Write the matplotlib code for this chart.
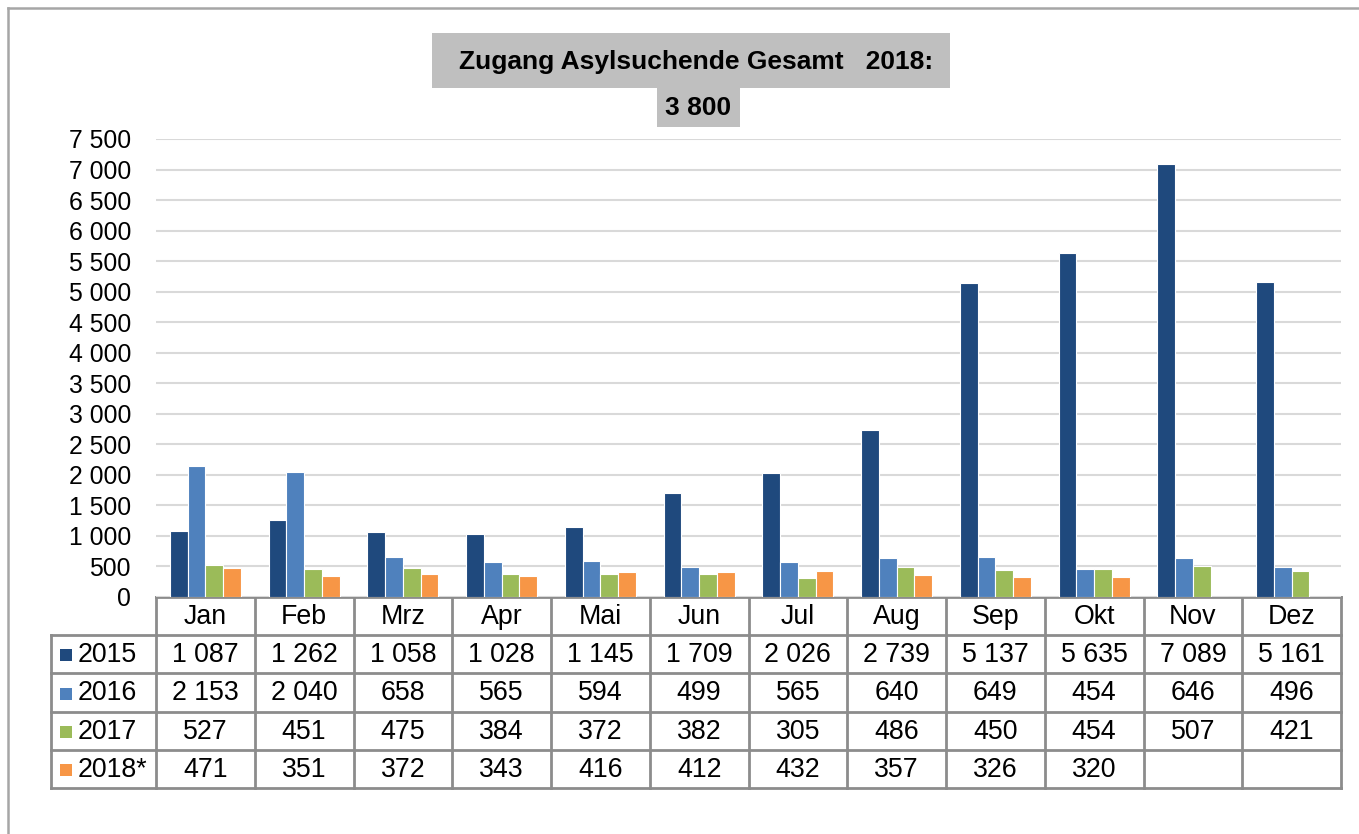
import matplotlib
matplotlib.use("Agg")
import matplotlib.pyplot as plt
import numpy as np

plt.rcParams['font.family'] = ['Liberation Sans', 'DejaVu Sans']

# Data
months = ['Jan', 'Feb', 'Mrz', 'Apr', 'Mai', 'Jun', 'Jul', 'Aug', 'Sep', 'Okt', 'Nov', 'Dez']
series_names = ['2015', '2016', '2017', '2018*']
vals_2015 = [1087, 1262, 1058, 1028, 1145, 1709, 2026, 2739, 5137, 5635, 7089, 5161]
vals_2016 = [2153, 2040, 658, 565, 594, 499, 565, 640, 649, 454, 646, 496]
vals_2017 = [527, 451, 475, 384, 372, 382, 305, 486, 450, 454, 507, 421]
vals_2018 = [471, 351, 372, 343, 416, 412, 432, 357, 326, 320, None, None]
colors = ['#1F497D', '#4F81BD', '#9BBB59', '#F79646']
title_text = 'Zugang Asylsuchende Gesamt   2018:'
total_text = '3 800'

all_series = [vals_2015, vals_2016, vals_2017, vals_2018]

def fmt(v):
    return f"{v:,}".replace(",", " ")

W, H = 1359, 834
fig = plt.figure(figsize=(W / 100, H / 100), dpi=100)

# overlay axes in pixel coordinates for frame, title boxes and table
ov = fig.add_axes([0, 0, 1, 1], zorder=0)
ov.set_xlim(0, W)
ov.set_ylim(H, 0)
ov.axis('off')

# chart frame (cut off at right/bottom)
ov.plot([8, 8], [H + 5, 8], color='#A6A6A6', lw=1.8)
ov.plot([8, W + 5], [8, 8], color='#A6A6A6', lw=1.8)

# title boxes
ov.add_patch(plt.Rectangle((432, 33), 518, 55, color='#BFBFBF', lw=0))
ov.add_patch(plt.Rectangle((657, 88), 83, 39, color='#BFBFBF', lw=0))
ov.text(696, 62, title_text, ha='center', va='center', fontsize=19, fontweight='bold')
ov.text(698, 108, total_text, ha='center', va='center', fontsize=19, fontweight='bold')

# main plot area
px0, px1 = 156, 1341
py_top, py_bot = 139, 597
ax = fig.add_axes([px0 / W, 1 - py_bot / H, (px1 - px0) / W, (py_bot - py_top) / H], zorder=1)
ax.set_facecolor('none')

x = np.arange(len(months))
bw = 0.18
offsets = [-0.27, -0.09, 0.09, 0.27]
for vals, col, off, name in zip(all_series, colors, offsets, series_names):
    h = [v if v is not None else 0 for v in vals]
    ax.bar(x + off, h, width=bw, color=col, edgecolor='white', linewidth=0.8, label=name, zorder=3)

ax.set_xlim(-0.5, len(months) - 0.5)
ax.set_ylim(0, 7500)
yt = np.arange(0, 7501, 500)
ax.set_yticks(yt)
ax.set_yticklabels([fmt(v) for v in yt], fontsize=17.8)
ax.tick_params(axis='y', length=0, pad=18)
ax.set_xticks([])
ax.yaxis.grid(True, color='#D9D9D9', lw=1.5, zorder=0)
for s in ax.spines.values():
    s.set_visible(False)

# data table
colw = (px1 - px0) / len(months)
row_h = 38.2
tab_top = py_bot
lab_x0 = 51
line_kw = dict(color='#8C8C8C', lw=2, zorder=5)
n_rows = len(series_names)
tab_bot = tab_top + row_h * (n_rows + 1)
fs = 19.3

# horizontal lines
ov.plot([px0, px1], [tab_top, tab_top], **line_kw)
for r in range(1, n_rows + 2):
    y = tab_top + r * row_h
    ov.plot([lab_x0, px1], [y, y], **line_kw)
# vertical lines
ov.plot([lab_x0, lab_x0], [tab_top + row_h, tab_bot], **line_kw)
for c in range(len(months) + 1):
    xx = px0 + c * colw
    ov.plot([xx, xx], [tab_top, tab_bot], **line_kw)

# header
for c, m in enumerate(months):
    ov.text(px0 + (c + 0.5) * colw, tab_top + row_h / 2 + 1, m, ha='center', va='center', fontsize=fs)

# rows
for r, (name, vals, col) in enumerate(zip(series_names, all_series, colors)):
    yc = tab_top + (r + 1.5) * row_h
    ov.add_patch(plt.Rectangle((60, yc - 5), 12, 12, color=col, lw=0))
    ov.text(78, yc + 1, name, ha='left', va='center', fontsize=fs)
    for c, v in enumerate(vals):
        if v is not None:
            ov.text(px0 + (c + 0.5) * colw, yc + 1, fmt(v), ha='center', va='center', fontsize=fs)

fig.savefig('out.png', dpi=100, facecolor='white')
